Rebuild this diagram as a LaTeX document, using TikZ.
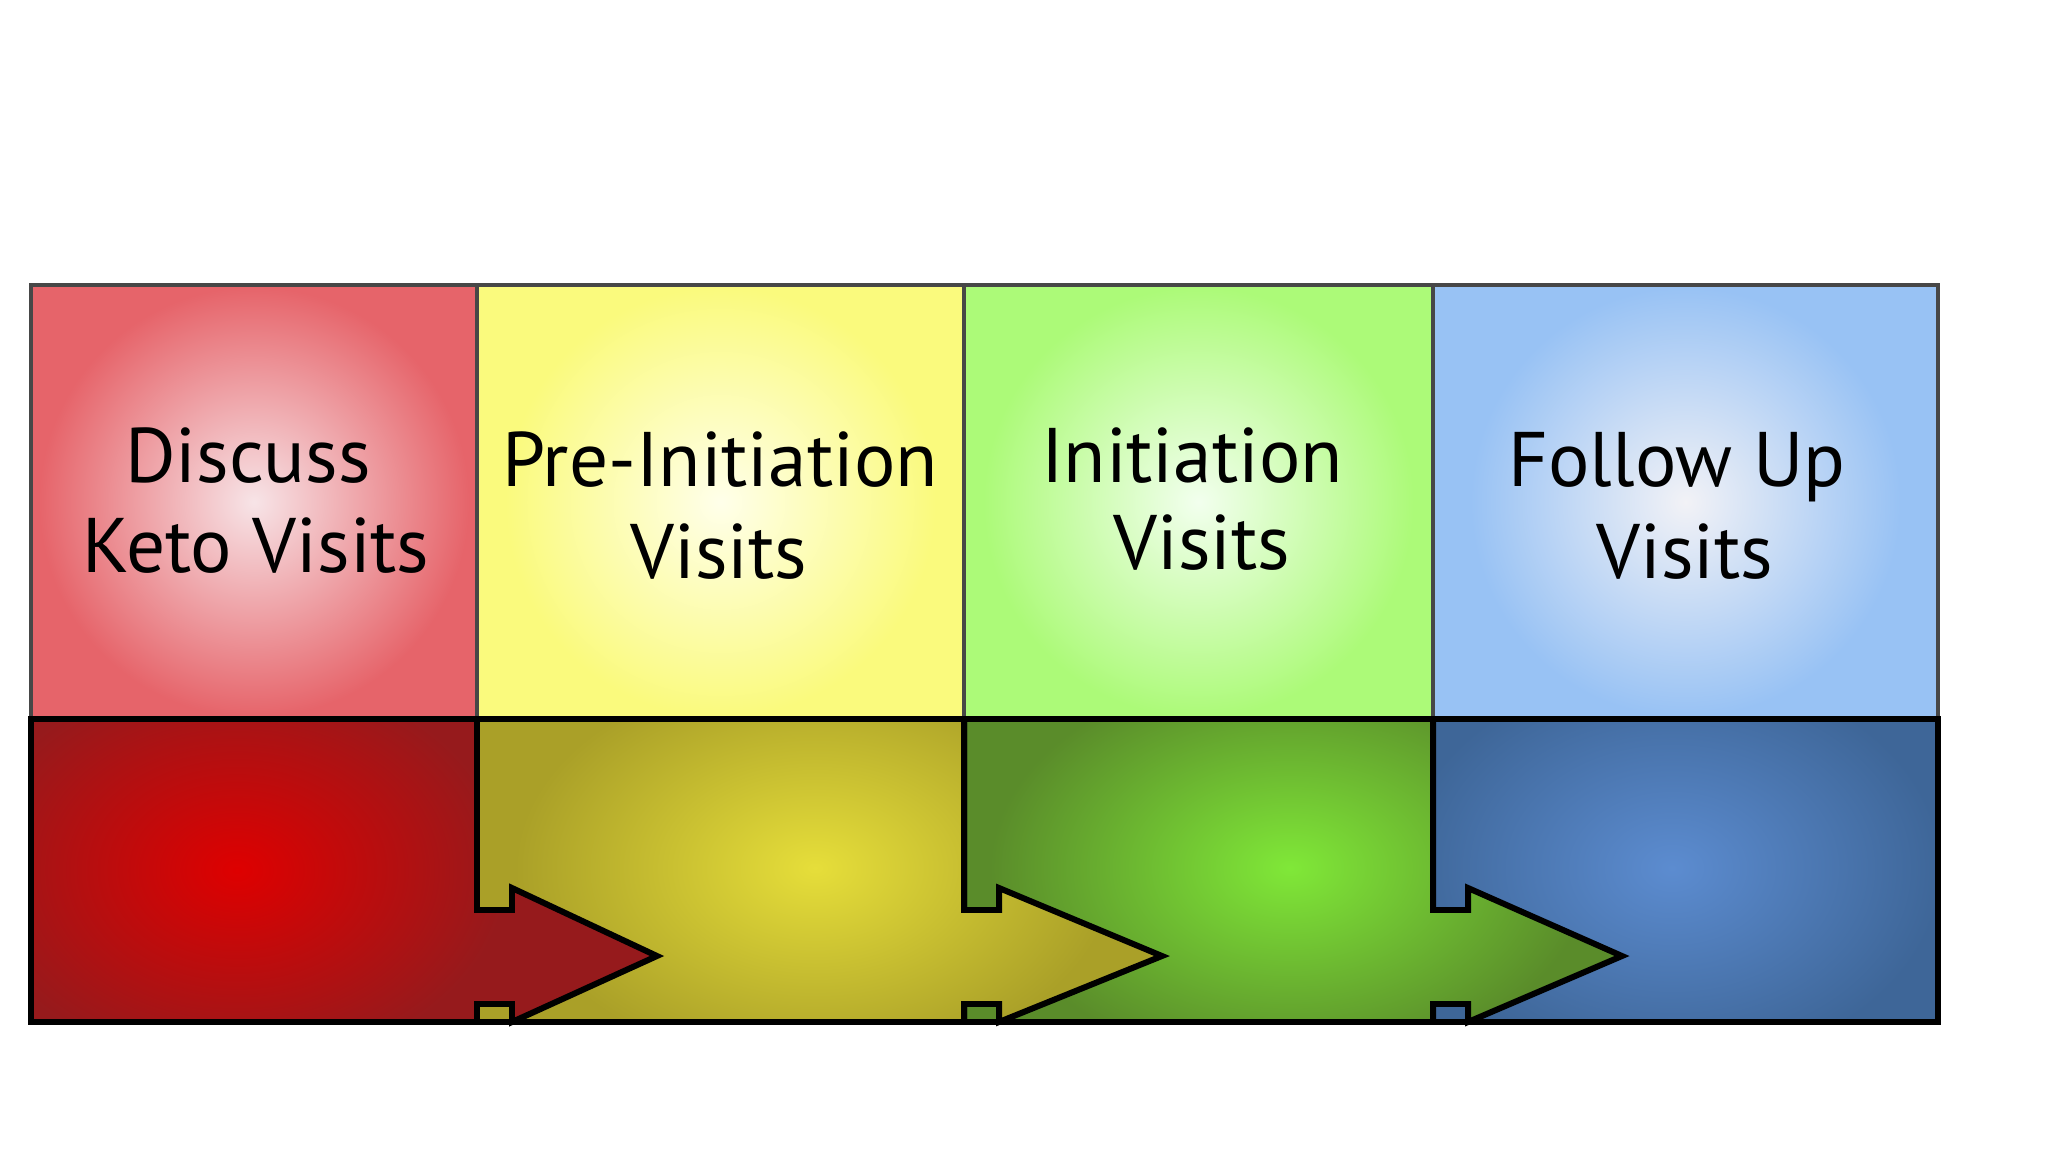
\documentclass[tikz,border=0pt]{standalone}
\usepackage{fontspec}
\setmainfont{PT Sans}
\definecolor{tAi}{RGB}{247,228,231}
\definecolor{tAo}{RGB}{230,100,106}
\definecolor{tBi}{RGB}{255,255,234}
\definecolor{tBo}{RGB}{250,250,125}
\definecolor{tCi}{RGB}{242,255,238}
\definecolor{tCo}{RGB}{172,250,120}
\definecolor{tDi}{RGB}{242,242,246}
\definecolor{tDo}{RGB}{152,194,244}
\definecolor{bAi}{RGB}{222,0,0}
\definecolor{bAo}{RGB}{150,26,28}
\definecolor{bBi}{RGB}{230,222,58}
\definecolor{bBo}{RGB}{170,160,40}
\definecolor{bCi}{RGB}{128,232,56}
\definecolor{bCo}{RGB}{90,140,42}
\definecolor{bDi}{RGB}{92,140,208}
\definecolor{bDo}{RGB}{62,102,152}
\tikzset{
  topedge/.style={draw=black!72, line width=1.4pt},
  botedge/.style={draw=black, line width=1.7pt, line join=miter},
  lbltext/.style={font=\fontsize{22}{26}\selectfont, anchor=base, inner sep=0pt, text=black},
  arrowshape/.style n args={3}{insert path={(#1,719) -- (#2,719) -- (#2,910) -- ({#2+35},910) -- ({#2+35},888) -- ({#2+#3},956) -- ({#2+35},1022) -- ({#2+35},1004) -- (#2,1004) -- (#2,1022) -- (#1,1022) -- cycle}},
}
\begin{document}
\begin{tikzpicture}[x=0.01cm,y=-0.01cm]
\useasboundingbox[fill=white] (0,0) rectangle (2048,1152);
% top boxes
\foreach \xa/\xb/\ci/\co in {31/477/tAi/tAo, 477/964/tBi/tBo, 964/1433/tCi/tCo, 1433/1938/tDi/tDo}{
  \fill[\co] (\xa,285) rectangle (\xb,719);
  \begin{scope}
    \clip (\xa,285) rectangle (\xb,719);
    \shade[inner color=\ci, outer color=\co] ({(\xa+\xb)/2},502) ellipse (215 and 215);
  \end{scope}
  \draw[topedge] (\xa,285) rectangle (\xb,719);
}
% bottom box 4
\fill[bDo] (1433,719) rectangle (1938,1022);
\begin{scope}
  \clip (1433,719) rectangle (1938,1022);
  \shade[inner color=bDi, outer color=bDo] (1672,868) ellipse (270 and 200);
\end{scope}
\draw[botedge] (1433,719) rectangle (1938,1022);
% bottom box 3 with arrow
\path[fill=bCo, arrowshape={964}{1433}{189}];
\begin{scope}
  \clip[arrowshape={964}{1433}{189}];
  \shade[inner color=bCi, outer color=bCo] (1290,868) ellipse (300 and 200);
\end{scope}
\path[botedge, arrowshape={964}{1433}{189}];
% bottom box 2 with arrow
\path[fill=bBo, arrowshape={477}{964}{198}];
\begin{scope}
  \clip[arrowshape={477}{964}{198}];
  \shade[inner color=bBi, outer color=bBo] (815,868) ellipse (300 and 200);
\end{scope}
\path[botedge, arrowshape={477}{964}{198}];
% bottom box 1 with arrow
\path[fill=bAo, arrowshape={31}{477}{180}];
\begin{scope}
  \clip[arrowshape={31}{477}{180}];
  \shade[inner color=bAi, outer color=bAo] (237,870) ellipse (270 and 200);
\end{scope}
\path[botedge, arrowshape={31}{477}{180}];
% labels
\node[lbltext] (t1a) at (248,482) {Discuss};
\node[lbltext] (t1b) at (256,573) {Keto Visits};
\node[lbltext] (t2a) at (720,487) {Pre-Initiation};
\node[lbltext] (t2b) at (719,579) {Visits};
\node[lbltext] (t3a) at (1192,482) {Initiation};
\node[lbltext] (t3b) at (1202,570) {Visits};
\node[lbltext] (t4a) at (1677,487) {Follow Up};
\node[lbltext] (t4b) at (1685,578) {Visits};
\end{tikzpicture}
\end{document}
